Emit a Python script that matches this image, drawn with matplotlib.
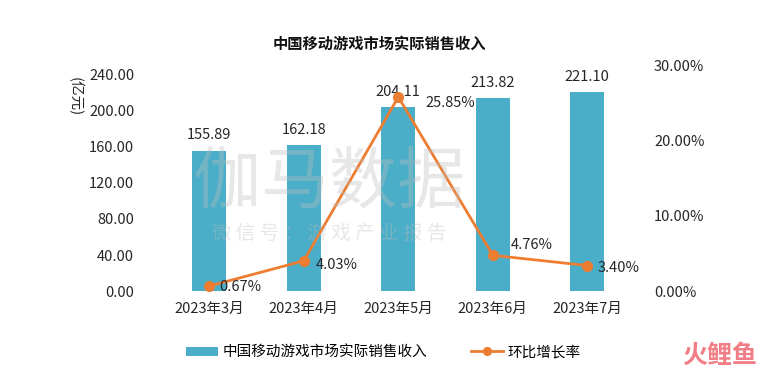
import numpy as np
import matplotlib
matplotlib.use('Agg')
import matplotlib.pyplot as plt
from matplotlib.ticker import FuncFormatter

plt.rcParams['font.family'] = ['Noto Sans CJK SC', 'DejaVu Sans']

months = ['2023年3月', '2023年4月', '2023年5月', '2023年6月', '2023年7月']
revenue = [155.89, 162.18, 204.11, 213.82, 221.10]
growth = [0.67, 4.03, 25.85, 4.76, 3.40]
left_ticks = [0, 40, 80, 120, 160, 200, 240]
right_ticks = [0, 10, 20, 30]

bar_color = '#4BAEC8'
line_color = '#ED7D31'
txt = '#262626'

fig = plt.figure(figsize=(7.66, 3.85), dpi=100)
ax = fig.add_axes([0.2115, 0.244, 0.617, 0.585])
ax2 = ax.twinx()

x = np.arange(len(months))
bars = ax.bar(x, revenue, width=0.36, color=bar_color, label='中国移动游戏市场实际销售收入', zorder=2)
line, = ax2.plot(x, growth, color=line_color, lw=2, marker='o', ms=7, label='环比增长率', zorder=3)

ax.set_xlim(-0.5, len(months) - 0.5)
ax.set_ylim(0, 250)
ax.set_yticks(left_ticks)
ax.yaxis.set_major_formatter(FuncFormatter(lambda v, p: f'{v:.2f}'))
ax2.set_ylim(0, 30)
ax2.set_yticks(right_ticks)
ax2.yaxis.set_major_formatter(FuncFormatter(lambda v, p: f'{v:.2f}%'))
ax.set_xticks(x)
ax.set_xticklabels(months)

for a in (ax, ax2):
    for s in a.spines.values():
        s.set_visible(False)
ax.tick_params(axis='y', length=0, pad=20, labelsize=10.5, labelcolor=txt)
ax.tick_params(axis='x', length=0, pad=8, labelsize=10.5, labelcolor=txt)
ax2.tick_params(axis='y', length=0, pad=14, labelsize=10.5, labelcolor=txt)
ax2.set_zorder(ax.get_zorder() + 1)
ax2.patch.set_visible(False)

# watermarks
fig.text(0.43, 0.525, '伽马数据', fontsize=49, color='#BDBDBD', alpha=0.35,
         ha='center', va='center', zorder=1)
fig.text(0.43, 0.395, '微 信 号 ： 游 戏 产 业 报 告', fontsize=14, color='#BDBDBD',
         alpha=0.35, ha='center', va='center', zorder=1)

for xi, v in zip(x, revenue):
    ax.annotate(f'{v:.2f}', (xi, v), xytext=(0, 6), textcoords='offset points',
                ha='center', va='bottom', fontsize=10.5, color=txt)

# label offsets for the growth line (pixels right, pixels down)
offs = [(10, 1), (12, 4), (27, 6), (18, -10), (10, 2)]
for xi, v, (dx, dy) in zip(x, growth, offs):
    ax2.annotate(f'{v:.2f}%', (xi, v), xytext=(dx * 0.72, -dy * 0.72),
                 textcoords='offset points', ha='left', va='center',
                 fontsize=10.5, color=txt)

fig.text(0.495, 0.885, '中国移动游戏市场实际销售收入', ha='center', va='center',
         fontsize=11, fontweight='bold', color='#111111')
fig.text(0.098, 0.75, '(亿元)', rotation=-90, ha='center', va='center',
         fontsize=10.5, color=txt)

fig.legend(handles=[bars, line], loc='center', bbox_to_anchor=(0.5, 0.085), ncol=2,
           frameon=False, fontsize=10.5, handlelength=2.2, handleheight=0.6,
           columnspacing=3, handletextpad=0.3, markerscale=0.8)

fig.text(0.94, 0.075, '火鲤鱼', ha='center', va='center', fontsize=18,
         fontweight='bold', color='#F0707A', alpha=0.9)

fig.savefig('out.png', dpi=100)
